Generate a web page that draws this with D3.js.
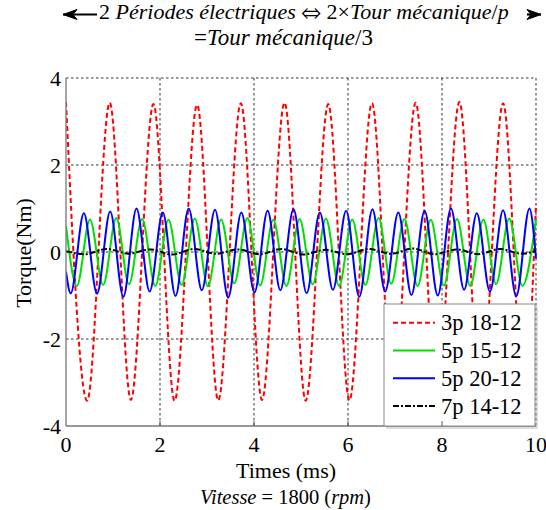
<!DOCTYPE html>
<html><head><meta charset="utf-8">
<script src="https://cdn.jsdelivr.net/npm/d3@7"></script>
</head><body><svg id="c" width="546" height="510"></svg>
<script>
// ---- data ----
const xTicks = [0, 2, 4, 6, 8, 10];
const yTicks = [-4, -2, 0, 2, 4];
const seriesNames = ["3p 18-12", "5p 15-12", "5p 20-12", "7p 14-12"];
const seriesColors = ["#ff0000", "#00e000", "#0000ff", "#000000"];

const redT = [0, 0.45, 0.93, 1.38, 1.86, 2.31, 2.79, 3.24, 3.72, 4.17, 4.65, 5.10, 5.58, 6.03, 6.51, 6.96, 7.44, 7.89, 8.37, 8.82, 9.30, 9.75, 10];
const redV = [3.45, -3.42, 3.43, -3.40, 3.40, -3.42, 3.38, -3.41, 3.42, -3.40, 3.43, -3.42, 3.40, -3.41, 3.42, -3.40, 3.43, -3.42, 3.45, -3.41, 3.42, -3.40, 1.1];

const greenT = [0, 0.23, 0.51, 0.79, 1.07, 1.34, 1.62, 1.90, 2.18, 2.46, 2.74, 3.02, 3.30, 3.58, 3.86, 4.13, 4.41, 4.69, 4.97, 5.25, 5.53, 5.81, 6.09, 6.37, 6.65, 6.92, 7.20, 7.48, 7.76, 8.04, 8.32, 8.60, 8.88, 9.15, 9.43, 9.71, 10];
const greenV = [0.6, -0.78, 0.75, -0.76, 0.78, -0.74, 0.76, -0.78, 0.74, -0.76, 0.77, -0.79, 0.75, -0.72, 0.78, -0.77, 0.74, -0.78, 0.76, -0.74, 0.77, -0.78, 0.75, -0.76, 0.78, -0.73, 0.76, -0.78, 0.74, -0.77, 0.76, -0.78, 0.75, -0.74, 0.77, -0.78, 0.75];

const blueT = [0, 0.10, 0.38, 0.66, 0.94, 1.22, 1.50, 1.78, 2.06, 2.33, 2.61, 2.89, 3.17, 3.45, 3.73, 4.01, 4.29, 4.56, 4.84, 5.12, 5.40, 5.68, 5.96, 6.24, 6.52, 6.79, 7.07, 7.35, 7.63, 7.91, 8.19, 8.47, 8.74, 9.02, 9.30, 9.58, 9.86, 10];
const blueV = [-0.45, -0.95, 0.89, -0.96, 0.93, -1.03, 1.0, -0.91, 0.91, -1.01, 1.0, -0.88, 0.97, -1.05, 0.91, -0.93, 0.95, -0.88, 0.98, -0.95, 0.91, -0.87, 0.95, -1.03, 0.98, -0.91, 0.91, -0.99, 0.95, -1.0, 1.0, -0.87, 0.89, -0.91, 0.96, -1.02, 1.0, -0.15];

const blackT = [0, 0.40, 0.87, 1.33, 1.80, 2.26, 2.73, 3.19, 3.66, 4.12, 4.59, 5.05, 5.52, 5.98, 6.45, 6.91, 7.38, 7.84, 8.31, 8.77, 9.24, 9.70, 10];
const blackV = [0.02, -0.05, 0.07, -0.04, 0.06, -0.06, 0.07, -0.04, 0.06, -0.05, 0.07, -0.06, 0.05, -0.05, 0.07, -0.04, 0.08, -0.05, 0.06, -0.05, 0.07, -0.04, 0.03];

// ---- layout ----
document.body.style.margin = "0";
const svg = d3.select("#c").style("display", "block");
const L = 66, T = 78, W = 470, H = 348;
const x = d3.scaleLinear().domain([0, 10]).range([L, L + W]);
const y = d3.scaleLinear().domain([-4, 4]).range([T + H, T]);
const txt = (sel) => sel.append("text").attr("font-family", "Liberation Serif").style("font-family", '"Liberation Serif"');
const fitWidth = (sel, base, target) => {
  const w = sel.node().getComputedTextLength();
  sel.attr("font-size", base * target / w);
};

// grid
const g = svg.append("g");
g.selectAll(".gx").data(xTicks.filter(d => d > 0)).join("line")
  .attr("x1", d => x(d)).attr("x2", d => x(d)).attr("y1", T).attr("y2", T + H)
  .attr("stroke", "#333").attr("stroke-width", 1).attr("stroke-dasharray", "2.5,2.5");
g.selectAll(".gy").data(yTicks.filter(d => d > -4)).join("line")
  .attr("y1", d => y(d)).attr("y2", d => y(d)).attr("x1", L).attr("x2", L + W)
  .attr("stroke", "#333").attr("stroke-width", 1).attr("stroke-dasharray", "2.5,2.5");

// curves
svg.append("defs").append("clipPath").attr("id", "clip")
  .append("rect").attr("x", L).attr("y", T - 2).attr("width", W + 1).attr("height", H + 4);
const curves = svg.append("g").attr("clip-path", "url(#clip)");
const line = d3.line().x(d => x(d[0])).y(d => y(d[1])).curve(d3.curveMonotoneX);
const zipS = (t, v) => t.map((d, i) => [d, v[i]]);
const series = [
  {data: zipS(redT, redV), color: seriesColors[0], dash: "5,3"},
  {data: zipS(greenT, greenV), color: seriesColors[1], dash: null},
  {data: zipS(blueT, blueV), color: seriesColors[2], dash: null},
  {data: zipS(blackT, blackV), color: seriesColors[3], dash: "6,2,2,2"}
];
series.forEach(s => {
  curves.append("path").attr("d", line(s.data)).attr("fill", "none")
    .attr("stroke", s.color).attr("stroke-width", 2)
    .attr("stroke-dasharray", s.dash);
});

// axes (left & bottom solid)
svg.append("line").attr("x1", L).attr("x2", L).attr("y1", T).attr("y2", T + H).attr("stroke", "#777").attr("stroke-width", 1.3);
svg.append("line").attr("x1", L).attr("x2", L + W).attr("y1", T + H).attr("y2", T + H).attr("stroke", "#777").attr("stroke-width", 1.3);

// legend
const lg = svg.append("g");
const lx = 384, ly = 304, lw = 151, lh = 122;
lg.append("rect").attr("x", lx).attr("y", ly).attr("width", lw).attr("height", lh).attr("fill", "#fff").attr("stroke", "#888").attr("stroke-width", 1);
lg.append("polyline").attr("points", `${lx + lw + 2},${ly + 2} ${lx + lw + 2},${ly + lh + 2} ${lx + 2},${ly + lh + 2}`).attr("fill", "none").attr("stroke", "#bbb").attr("stroke-width", 1);
seriesNames.forEach((n, i) => {
  const ry = 322.7 + i * 27.8;
  lg.append("line").attr("x1", 393).attr("x2", 435).attr("y1", ry).attr("y2", ry)
    .attr("stroke", series[i].color).attr("stroke-width", 2).attr("stroke-dasharray", series[i].dash);
  txt(lg).attr("x", 441).attr("y", ry + 7.5).attr("font-size", 22.5).text(n);
});

// ticks (inside) on bottom axis
svg.append("g").selectAll("line").data(xTicks.slice(1, -1)).join("line")
  .attr("x1", d => x(d)).attr("x2", d => x(d)).attr("y1", T + H).attr("y2", T + H - 5).attr("stroke", "#555");

// tick labels
const xt = svg.append("g");
xTicks.forEach(d => txt(xt).attr("x", x(d)).attr("y", 452).attr("text-anchor", "middle").attr("font-size", 22).text(d));
const yt = svg.append("g");
yTicks.forEach(d => txt(yt).attr("x", 61).attr("y", y(d) + 7.5).attr("text-anchor", "end").attr("font-size", 22).text(d));

// axis titles
txt(svg).attr("x", 236).attr("y", 478).attr("font-size", 22).text("Times (ms)");
txt(svg).attr("transform", "translate(31,253) rotate(-90)").attr("text-anchor", "middle").attr("font-size", 22).text("Torque(Nm)");

const sub = txt(svg).attr("x", 200).attr("y", 504).attr("font-size", 19);
sub.append("tspan").attr("font-style", "italic").text("Vitesse");
sub.append("tspan").text(" = 1800 (");
sub.append("tspan").attr("font-style", "italic").text("rpm");
sub.append("tspan").text(")");
fitWidth(sub, 19, 171);

// header
const h1 = txt(svg).attr("x", 99).attr("y", 19).attr("font-size", 20);
[["2 ", false], ["Périodes électriques", true], [" ", false], ["⇔", false, true], [" 2×", false], ["Tour  mécanique", true], ["/", false], ["p", true]]
  .forEach(([t, it, sym]) => {
    const ts = h1.append("tspan").attr("font-style", it ? "italic" : null).text(t);
    if (sym) ts.style("font-family", '"FreeSerif"');
  });
const w1 = h1.node().getComputedTextLength();
h1.attr("font-size", Math.min(22, 20 * 427 / w1));

const h2 = txt(svg).attr("x", 194).attr("y", 44.5).attr("font-size", 20);
[["=", false], ["Tour  mécanique", true], ["/3", false]]
  .forEach(([t, it]) => h2.append("tspan").attr("font-style", it ? "italic" : null).text(t));
fitWidth(h2, 20, 179);

// arrows
function arrow(x0, x1, yy, dir) {
  svg.append("line").attr("x1", x0).attr("x2", x1).attr("y1", yy).attr("y2", yy).attr("stroke", "#000").attr("stroke-width", 2.2);
  const tip = dir < 0 ? Math.min(x0, x1) : Math.max(x0, x1);
  const s = -dir;
  svg.append("path").attr("d", `M${tip},${yy} L${tip + s * 14},${yy - 5} L${tip + s * 10},${yy} L${tip + s * 14},${yy + 5} Z`).attr("fill", "#000").attr("stroke", "#000").attr("stroke-width", 1);
}
arrow(63, 97, 14.5, -1);
arrow(527, 541, 14.5, 1);
</script></body></html>
